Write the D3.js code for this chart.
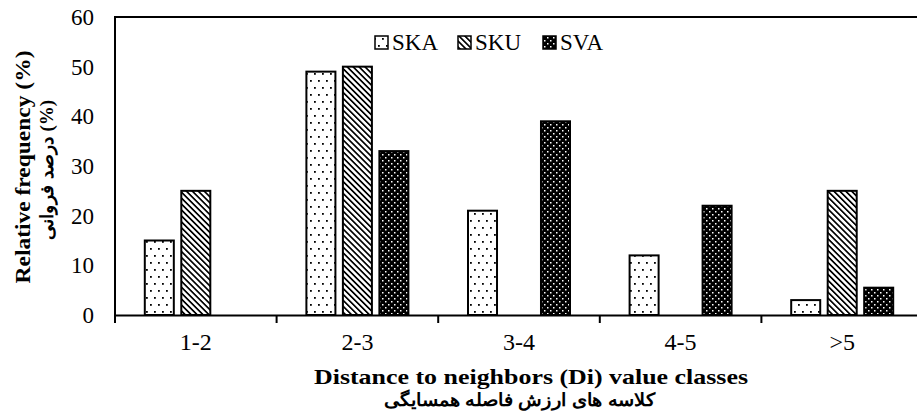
<!DOCTYPE html>
<html><head><meta charset="utf-8">
<script src="https://cdn.jsdelivr.net/npm/d3@7"></script>
<style>body{margin:0;background:#fff}svg{display:block}</style>
</head><body>
<script>
const categories = ["1-2","2-3","3-4","4-5",">5"];
const seriesNames = ["SKA","SKU","SVA"];
const SKA = [15,49,21,12,3];
const SKU = [25,50,0,0,25];
const SVA = [0,33,39,22,5.5];
const yTicks = [0,10,20,30,40,50,60];

const W=917,H=419;
const m={left:115,top:17,bottom:315,right:923};
const svg=d3.select("body").append("svg").attr("width",W).attr("height",H);
const defs=svg.append("defs");
const p1=defs.append("pattern").attr("id","pSKA").attr("patternUnits","userSpaceOnUse").attr("width",16).attr("height",14);
p1.append("rect").attr("width",16).attr("height",14).attr("fill","#fff");
[[2,3],[10,3],[6,10],[14,10]].forEach(([x,y])=>p1.append("rect").attr("x",x).attr("y",y).attr("width",1.8).attr("height",1.8).attr("fill","#000"));
const p2=defs.append("pattern").attr("id","pSKU").attr("patternUnits","userSpaceOnUse").attr("width",4.2).attr("height",4.2).attr("patternTransform","rotate(-45)");
p2.append("rect").attr("width",4.2).attr("height",4.2).attr("fill","#fff");
p2.append("rect").attr("x",0).attr("y",0).attr("width",1.7).attr("height",4.2).attr("fill","#000");
const p3=defs.append("pattern").attr("id","pSVA").attr("patternUnits","userSpaceOnUse").attr("width",6).attr("height",6);
p3.append("rect").attr("width",6).attr("height",6).attr("fill","#000");
p3.append("rect").attr("x",1).attr("y",1).attr("width",1.5).attr("height",1.5).attr("fill","#fff");
p3.append("rect").attr("x",4).attr("y",4).attr("width",1.5).attr("height",1.5).attr("fill","#fff");

const x=d3.scaleBand().domain(categories).range([m.left,m.right]).padding(0);
const y=d3.scaleLinear().domain([0,60]).range([m.bottom,m.top]);
const xs=d3.scaleBand().domain(seriesNames).range([-51,51]).paddingInner(0.205);

const data=[SKA,SKU,SVA];
const font="'Liberation Serif','Times New Roman',serif";
seriesNames.forEach((s,si)=>{
  svg.append("g").selectAll("rect").data(categories.map((c,i)=>({c,v:data[si][i]})).filter(d=>d.v>0))
   .join("rect")
   .attr("x",d=>x(d.c)+x.bandwidth()/2+xs(s))
   .attr("width",xs.bandwidth())
   .attr("y",d=>y(d.v)).attr("height",d=>y(0)-y(d.v))
   .attr("fill","url(#p"+s+")").attr("stroke","#000").attr("stroke-width",2);
});

svg.append("path").attr("d",`M${W},${m.top}H${m.left}V${m.bottom}`).attr("fill","none").attr("stroke","#000").attr("stroke-width",2);
const xa=svg.append("g").attr("transform",`translate(0,${m.bottom})`).call(d3.axisBottom(x).tickSize(0));
xa.select(".domain").attr("stroke-width",2);
xa.selectAll("text").attr("y",35).attr("dy",0).attr("font-family",font).attr("font-size",24).attr("fill","#000");
svg.append("g").selectAll("line").data(categories).join("line")
  .attr("x1",d=>x(d)).attr("x2",d=>x(d)).attr("y1",m.bottom).attr("y2",m.bottom+8).attr("stroke","#000").attr("stroke-width",2);
const ya=svg.append("g").attr("transform",`translate(${m.left},0)`).call(d3.axisLeft(y).tickValues(yTicks).tickSize(0).tickPadding(21));
ya.select(".domain").remove();
ya.selectAll("text").attr("font-family",font).attr("font-size",23).attr("fill","#000");

svg.append("text").attr("x",531).attr("y",384).attr("text-anchor","middle").attr("font-family",font).attr("font-weight","bold").attr("font-size",21)
  .attr("textLength",434).attr("lengthAdjust","spacingAndGlyphs").text("Distance to neighbors (Di) value classes");
svg.append("text").attr("x",520).attr("y",406).attr("text-anchor","middle").attr("font-family",font).attr("font-weight","bold").attr("font-size",18)
  .attr("direction","rtl").attr("textLength",272).attr("lengthAdjust","spacingAndGlyphs").text("کلاسه های ارزش فاصله همسایگی");
svg.append("text").attr("transform","translate(30,167) rotate(-90)").attr("text-anchor","middle").attr("font-family",font).attr("font-weight","bold").attr("font-size",22)
  .attr("textLength",233).attr("lengthAdjust","spacingAndGlyphs").text("Relative frequency (%)");
svg.append("text").attr("transform","translate(53,170) rotate(-90)").attr("text-anchor","middle").attr("font-family",font).attr("font-weight","bold").attr("font-size",18)
  .attr("textLength",140).attr("lengthAdjust","spacingAndGlyphs").text("درصد فروانی (%)");

const lx=[375,458,543];
seriesNames.forEach((s,i)=>{
  svg.append("rect").attr("x",lx[i]).attr("y",36).attr("width",13).attr("height",13).attr("fill","url(#p"+s+")").attr("stroke","#000").attr("stroke-width",1.5);
  svg.append("text").attr("x",lx[i]+17).attr("y",50).attr("font-family",font).attr("font-size",23).text(s);
});
</script>
</body></html>
